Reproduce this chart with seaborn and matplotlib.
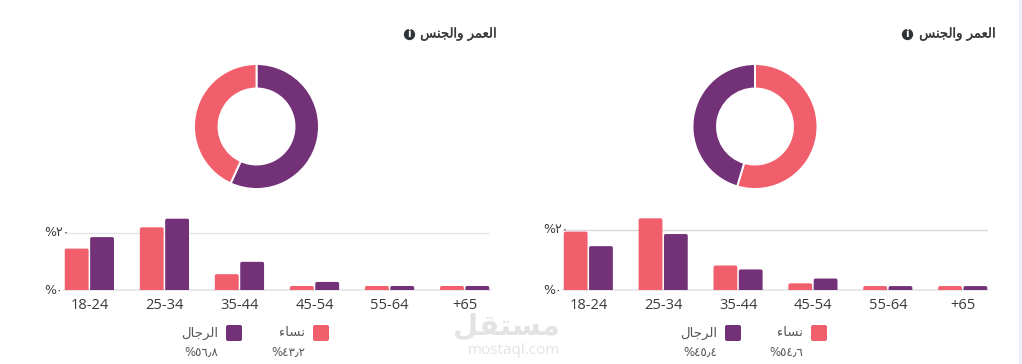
import matplotlib
matplotlib.use('Agg')
import matplotlib.pyplot as plt
import matplotlib.patheffects as pe
from matplotlib.patches import FancyBboxPatch, Rectangle
from matplotlib.transforms import IdentityTransform
import seaborn as sns
import pandas as pd

W, H = 1022, 364

# ---- data ----
ages = ['18-24', '25-34', '35-44', '45-54', '55-64', '+65']
women_left = [14.4, 21.8, 5.5, 1.4, 1.4, 1.4]
men_left = [18.4, 24.8, 9.8, 2.8, 1.4, 1.4]
women_right = [19.3, 23.7, 8.1, 2.2, 1.3, 1.3]
men_right = [14.5, 18.5, 6.8, 3.8, 1.3, 1.3]
share_left = [56.8, 43.2]    # men, women
share_right = [54.6, 45.4]   # women, men
share_text_left = ['%٥٦٫٨', '%٤٣٫٢']    # men, women
share_text_right = ['%٤٥٫٤', '%٥٤٫٦']   # men, women
tick_text = ['%٠', '%٢٠']
title_text = 'العمر والجنس'
women_text = 'نساء'
men_text = 'الرجال'
mark_text = 'مستقل'
mark_sub = 'mostaql.com'

PINK = '#F25F6C'
PURPLE = '#733178'
INK = '#3A3A3A'

# matplotlib has no arabic shaping, so pick the presentation forms by hand
FORMS = {
    'ا': (0xFE8D, 0xFE8E, None, None),
    'ر': (0xFEAD, 0xFEAE, None, None),
    'و': (0xFEED, 0xFEEE, None, None),
    'ء': (0xFE80, None, None, None),
    'ل': (0xFEDD, 0xFEDE, 0xFEDF, 0xFEE0),
    'ع': (0xFEC9, 0xFECA, 0xFECB, 0xFECC),
    'م': (0xFEE1, 0xFEE2, 0xFEE3, 0xFEE4),
    'ج': (0xFE9D, 0xFE9E, 0xFE9F, 0xFEA0),
    'ن': (0xFEE5, 0xFEE6, 0xFEE7, 0xFEE8),
    'س': (0xFEB1, 0xFEB2, 0xFEB3, 0xFEB4),
    'ت': (0xFE95, 0xFE96, 0xFE97, 0xFE98),
    'ق': (0xFED5, 0xFED6, 0xFED7, 0xFED8),
}


def shape(text):
    out = []
    for i, ch in enumerate(text):
        if ch not in FORMS:
            out.append(ch)
            continue
        prev = text[i - 1] if i else ' '
        nxt = text[i + 1] if i + 1 < len(text) else ' '
        from_prev = prev in FORMS and FORMS[prev][2] is not None
        to_next = nxt in FORMS and FORMS[ch][2] is not None and FORMS[nxt][1] is not None
        idx = 3 if from_prev and to_next else 1 if from_prev else 2 if to_next else 0
        out.append(chr(FORMS[ch][idx]))
    return ''.join(reversed(out))


sns.set_theme(style='white')
plt.rcParams['font.family'] = ['Open Sans', 'DejaVu Sans']

fig = plt.figure(figsize=(W / 100, H / 100), dpi=100, facecolor='white')


def px_axes(x0, y0, x1, y1):
    # pixel box measured from the top left of the picture
    return fig.add_axes([x0 / W, 1 - y1 / H, (x1 - x0) / W, (y1 - y0) / H])


overlay = fig.add_axes([0, 0, 1, 1], zorder=5)
overlay.set_xlim(0, W)
overlay.set_ylim(H, 0)
overlay.axis('off')
overlay.patch.set_alpha(0)


def draw_bars(x0, x1, y20, women, men, grid_color):
    ax = px_axes(x0, 200, x1, 290)
    df = pd.DataFrame({
        'age': ages * 2,
        'value': women + men,
        'sex': ['women'] * len(ages) + ['men'] * len(ages),
    })
    sns.barplot(data=df, x='age', y='value', hue='sex', order=ages,
                hue_order=['women', 'men'], palette=[PINK, PURPLE], saturation=1,
                width=0.676, gap=0.06, legend=False, ax=ax)
    ax.set_xlim(-0.338, 5.338)
    ax.set_ylim(0, 20 * 90 / (290 - y20))
    ax.set_xlabel('')
    ax.set_ylabel('')
    ax.set_yticks([0, 20], labels=[])
    ax.grid(axis='y', color=grid_color, lw=1)
    ax.set_axisbelow(True)
    sns.despine(ax=ax, left=True, top=True, right=True)
    ax.spines['bottom'].set_color('#E8E8EA')
    ax.spines['bottom'].set_linewidth(1.5)
    ax.tick_params(axis='x', length=0, pad=6, labelsize=10.5, labelcolor=INK)
    ax.tick_params(axis='y', length=0)
    ax.patch.set_alpha(0)

    # rounded tops, the low end is hidden below the axes edge
    fig.canvas.draw()
    for bar in list(ax.patches):
        (bx0, by0), (bx1, by1) = ax.transData.transform(
            [(bar.get_x(), 0), (bar.get_x() + bar.get_width(), bar.get_height())])
        round_bar = FancyBboxPatch((bx0, by0 - 3), bx1 - bx0, by1 - by0 + 3,
                                   boxstyle='round,pad=0,rounding_size=1.8',
                                   fc=bar.get_facecolor(), ec='none',
                                   transform=IdentityTransform(), zorder=3)
        ax.add_patch(round_bar)
        round_bar.set_clip_box(ax.bbox)
        bar.set_visible(False)

    for val, txt in zip([0, 20], tick_text):
        py = 290 if val == 0 else y20
        overlay.text(x0 - 20, py, txt, ha='left', va='center', fontsize=9,
                     color=INK, family=['DejaVu Sans'])


def draw_donut(cx, cy, shares, colors):
    r = 62.5
    ax = px_axes(cx - r - 1, cy - r - 1, cx + r + 1, cy + r + 1)
    ax.pie(shares, colors=colors, startangle=90, counterclock=False, radius=1,
           wedgeprops={'width': 24.5 / r, 'edgecolor': 'white', 'linewidth': 1.4})
    ax.set_xlim(-(r + 1) / r, (r + 1) / r)
    ax.set_ylim(-(r + 1) / r, (r + 1) / r)


def draw_title(right, icon_x):
    overlay.text(right, 34, shape(title_text), ha='right', va='center',
                 fontsize=9.5, color=INK, family=['DejaVu Sans'],
                 path_effects=[pe.withStroke(linewidth=0.25, foreground=INK)])
    overlay.scatter([icon_x], [34], s=66, color='#2E3338', lw=0, zorder=6)
    overlay.text(icon_x, 34, 'i', ha='center', va='center', fontsize=7.5,
                 color='white', fontweight='bold', family=['DejaVu Sans'], zorder=7)


def draw_legend(x_women, x_men, men_share, women_share):
    for sw_x, color, label, share_txt in [(x_women, PINK, women_text, women_share),
                                          (x_men, PURPLE, men_text, men_share)]:
        overlay.add_patch(FancyBboxPatch((sw_x, 325), 16, 16,
                                         boxstyle='round,pad=0,rounding_size=2',
                                         fc=color, ec='none'))
        overlay.text(sw_x - 8, 333, shape(label), ha='right', va='center',
                     fontsize=9.5, color='#555555', family=['DejaVu Sans'])
        overlay.text(sw_x - 8, 352, share_txt, ha='right', va='center',
                     fontsize=8.5, color='#555555', family=['DejaVu Sans'])


# left panel
draw_title(497, 408.5)
draw_donut(256.5, 126.5, share_left, [PURPLE, PINK])
draw_bars(64, 490, 232.5, women_left, men_left, '#E6E6E8')
draw_legend(313, 226, share_text_left[0], share_text_left[1])

# right panel
draw_title(996, 907)
draw_donut(755, 126.5, share_right, [PINK, PURPLE])
draw_bars(563, 988, 229.5, women_right, men_right, '#DADADE')
draw_legend(811, 725, share_text_right[0], share_text_right[1])

# site watermark and page edge
overlay.text(560, 335, shape(mark_text), ha='right', va='baseline', fontsize=21,
             color='#000000', alpha=0.11, fontweight='bold', family=['DejaVu Sans'])
overlay.text(560, 350, mark_sub, ha='right', va='center', fontsize=11,
             color='#000000', alpha=0.11, family=['Open Sans'])
overlay.add_patch(Rectangle((1019, 0), 3, H, fc='#EBF0FA', ec='none'))

fig.savefig('out.png', dpi=100)
